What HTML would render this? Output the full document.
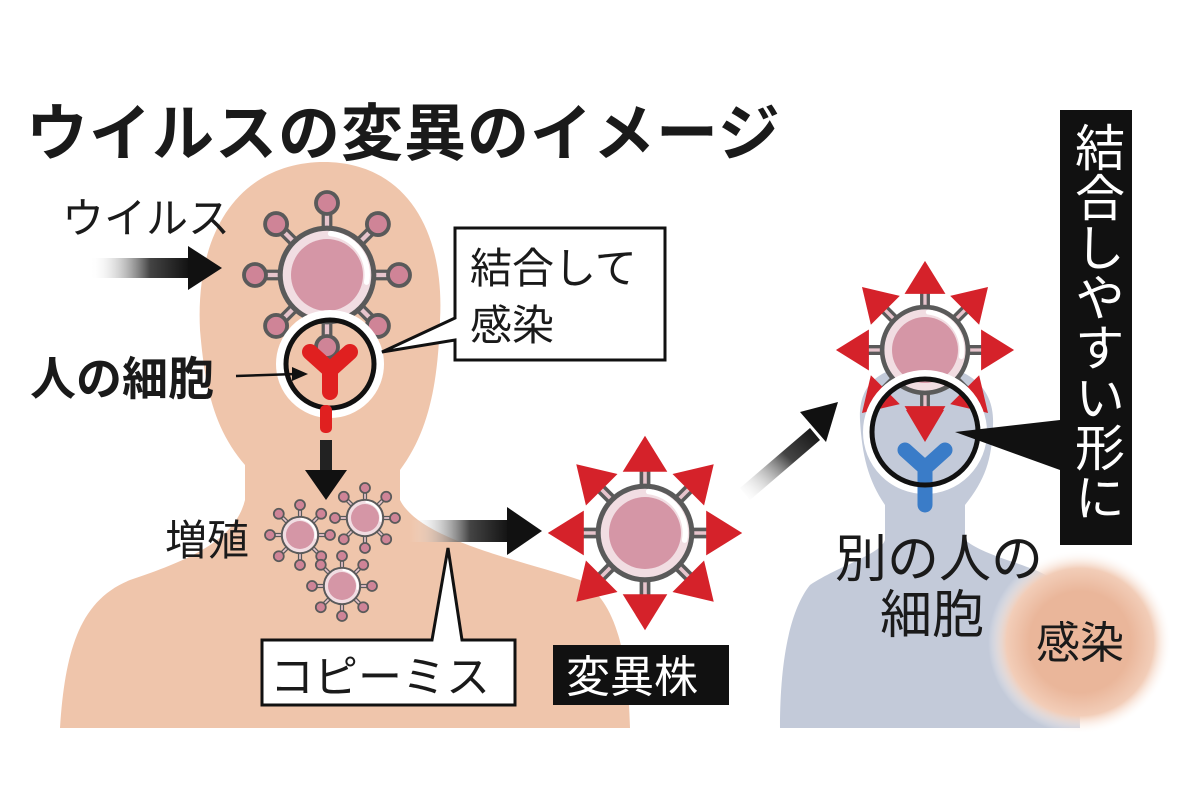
<!DOCTYPE html>
<html><head><meta charset="utf-8"><style>
html,body{margin:0;padding:0;background:#fff;width:1200px;height:800px;overflow:hidden}
svg{display:block}
text{font-family:"Liberation Sans","Noto Sans CJK JP",sans-serif}
</style></head><body>
<svg id="s" width="1200" height="800" viewBox="0 0 1200 800" xmlns="http://www.w3.org/2000/svg">
<defs>
<linearGradient id="ga" x1="0" x2="1"><stop offset="0" stop-color="#fff" stop-opacity="0"/><stop offset="0.6" stop-color="#444"/><stop offset="1" stop-color="#111"/></linearGradient>
<linearGradient id="gd" x1="0" y1="1" x2="1" y2="0"><stop offset="0" stop-color="#fff" stop-opacity="0"/><stop offset="0.6" stop-color="#444"/><stop offset="1" stop-color="#111"/></linearGradient>
<radialGradient id="glow"><stop offset="0.55" stop-color="#eab69a"/><stop offset="0.8" stop-color="#f2cdb8"/><stop offset="1" stop-color="#fff" stop-opacity="0"/></radialGradient>
</defs>
<path d="M200,330 C195,230 240,165 320,162 C405,160 445,230 440,320 C438,380 430,430 400,470 L400,500 C420,540 520,560 580,580 C615,600 628,650 630,728 L60,728 C65,650 80,600 130,580 C190,560 235,540 245,500 L245,465 C215,430 205,390 200,330 Z" fill="#efc5ab"/>
<path d="M860,420 C858,380 885,365 925,365 C965,365 995,385 993,425 C992,460 985,480 965,505 L965,540 C990,560 1040,565 1060,585 C1075,610 1080,680 1080,728 L780,728 C780,660 790,610 810,585 C840,565 880,555 885,540 L885,505 C868,480 862,455 860,420 Z" fill="#c3cad9"/>
<circle cx="1080" cy="642" r="92" fill="url(#glow)"/>
<g id="dyn"></g>
<text x="26" y="155" font-size="62" font-weight="bold" fill="#1a1a1a" letter-spacing="1">ウイルスの変異のイメージ</text>
<text x="62" y="233" font-size="42" fill="#1a1a1a">ウイルス</text>
<rect x="90" y="258" width="100" height="20" fill="url(#ga)"/>
<polygon points="188,246 222,268 188,290" fill="#111"/>
<text x="30" y="395" font-size="46" font-weight="bold" fill="#1a1a1a">人の細胞</text>
<line x1="236" y1="376" x2="296" y2="374" stroke="#111" stroke-width="2.5"/>
<polygon points="292,367 308,374 292,381" fill="#111"/>
<path d="M455,228 L665,228 L665,360 L455,360 L455,340 L382,352 L455,318 Z" fill="#fff" stroke="#111" stroke-width="3"/>
<text x="470" y="283" font-size="42" fill="#1a1a1a">結合して</text>
<text x="470" y="340" font-size="42" fill="#1a1a1a">感染</text>
<rect x="320" y="405" width="12" height="28" rx="5" fill="#e02020"/>
<rect x="320" y="440" width="12" height="35" fill="#222"/>
<polygon points="305,470 347,470 326,500" fill="#111"/>
<text x="165" y="555" font-size="42" fill="#1a1a1a">増殖</text>
<rect x="410" y="520" width="100" height="22" fill="url(#ga)"/>
<polygon points="507,507 542,531 507,555" fill="#111"/>
<path d="M262,640 L432,640 L448,548 L462,640 L515,640 L515,705 L262,705 Z" fill="#fff" stroke="#111" stroke-width="3"/>
<text x="270" y="692" font-size="44" fill="#1a1a1a">コピーミス</text>
<rect x="553" y="645" width="176" height="60" fill="#111"/>
<text x="566" y="692" font-size="44" fill="#fff">変異株</text>
<polygon points="740,488 810,428 820,440 750,500" fill="url(#gd)"/>
<polygon points="800,412 838,402 826,442" fill="#111"/>
<path d="M1060,110 L1132,110 L1132,545 L1060,545 L1060,470 L955,432 L1060,420 Z" fill="#111"/>
<text font-size="50" fill="#fff" x="1096" y="122" style="writing-mode:vertical-rl;text-orientation:upright">結合しやすい形に</text>
<text x="835" y="577" font-size="52" fill="#1a1a1a">別の人の</text>
<text x="880" y="633" font-size="52" fill="#1a1a1a">細胞</text>
<text x="1036" y="658" font-size="44" fill="#1a1a1a">感染</text>
</svg>
<script>
var NS="http://www.w3.org/2000/svg",g=document.getElementById('dyn');
function el(t,a){var e=document.createElementNS(NS,t);for(var k in a)e.setAttribute(k,a[k]);g.appendChild(e);return e}
function core(cx,cy,r){
 el('circle',{cx:cx,cy:cy,r:r*1.3,fill:'#f1dde2',stroke:'#5a5a5a','stroke-width':r*0.14});
 el('circle',{cx:cx,cy:cy,r:r,fill:'#d596a6'});
 el('path',{d:'M'+(cx+r*0.1)+','+(cy-r*1.15)+' A'+r*1.15+','+r*1.15+' 0 0 1 '+(cx+r*1.1)+','+(cy+r*0.2),fill:'none',stroke:'#fff','stroke-width':r*0.15,'stroke-linecap':'round'});
}
function virus(cx,cy,r,len,kr){
 for(var i=0;i<8;i++){var a=i*Math.PI/4,x=cx+Math.sin(a)*len,y=cy-Math.cos(a)*len;
  el('line',{x1:cx,y1:cy,x2:x,y2:y,stroke:'#5a5a5a','stroke-width':r*0.3});
  el('line',{x1:cx,y1:cy,x2:x,y2:y,stroke:'#e6c4cc','stroke-width':r*0.12});
  el('circle',{cx:x,cy:y,r:kr,fill:'#cf8497',stroke:'#5a5a5a','stroke-width':kr*0.35});}
 core(cx,cy,r);
}
function mutant(cx,cy,r){
 for(var i=0;i<8;i++){var a=i*Math.PI/4,s=Math.sin(a),c=Math.cos(a);
  var x=cx+s*r*1.75,y=cy-c*r*1.75;
  el('line',{x1:cx,y1:cy,x2:x,y2:y,stroke:'#5a5a5a','stroke-width':r*0.3});
  el('line',{x1:cx,y1:cy,x2:x,y2:y,stroke:'#e6c4cc','stroke-width':r*0.1});
  var b=r*1.7,t=r*2.7,w=r*0.62,px=c,py=s;
  el('polygon',{points:[cx+s*t,cy-c*t,cx+s*b+px*w,cy-c*b+py*w,cx+s*b-px*w,cy-c*b-py*w].join(','),fill:'#d5222a'});}
 core(cx,cy,r);
}
virus(327,275,36,72,11);
el('circle',{cx:330,cy:364,r:50,fill:'none',stroke:'#fff','stroke-width':8});
el('path',{d:'M310,352 L330,370 L350,352 M330,370 L330,392',fill:'none',stroke:'#e02020','stroke-width':16,'stroke-linecap':'round','stroke-linejoin':'round'});
el('circle',{cx:330,cy:364,r:44,fill:'none',stroke:'#111','stroke-width':5});
virus(300,535,14,30,5);virus(365,518,14,30,5);virus(342,586,14,30,5);
mutant(645,533,36);
mutant(925,350,33);
el('circle',{cx:925,cy:432,r:58,fill:'none',stroke:'#fff','stroke-width':8});
el('path',{d:'M905,450 L925,468 L945,450 M925,468 L925,505',fill:'none',stroke:'#3a7cc8','stroke-width':15,'stroke-linecap':'round','stroke-linejoin':'round'});
el('polygon',{points:'906,410 944,410 925,442',fill:'#d5222a'});
el('circle',{cx:925,cy:432,r:53,fill:'none',stroke:'#111','stroke-width':5});
</script>
</body></html>
